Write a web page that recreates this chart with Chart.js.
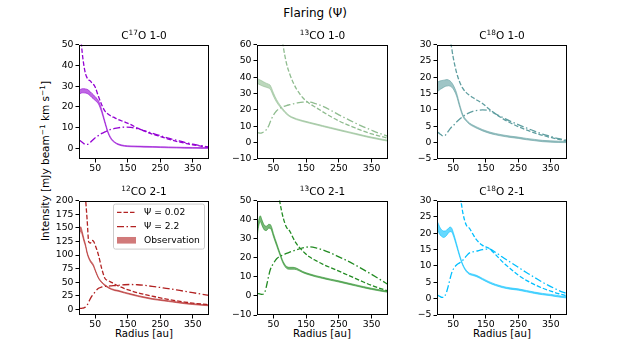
<!DOCTYPE html>
<html>
<head>
<meta charset="utf-8">
<script src="https://cdn.jsdelivr.net/npm/chart.js@4.4.1/dist/chart.umd.min.js"></script>
<style>
  body { margin: 0; background: #fff; font-family: "DejaVu Sans", sans-serif; }
  #fig { position: relative; width: 630px; height: 360px; overflow: hidden; background: #fff; }
  #fig canvas { position: absolute; }
  .txt { position: absolute; transform: translate(-50%, -50%); white-space: nowrap; color: #000; line-height: 1; }
  .txt sup { font-size: 70%; vertical-align: 0.45em; line-height: 0; }
  .sub { font-size: 10.5px; }
  .lab { font-size: 10.2px; }
</style>
</head>
<body>
<div id="fig">
  <div class="txt" style="left:315px;top:13px;font-size:12px">Flaring (Ψ)</div>
  <div class="txt lab" style="left:45px;top:161px;font-size:10.5px;transform:translate(-50%,-50%) rotate(-90deg)">Intensity [mJy beam<sup>−1</sup> km s<sup>−1</sup>]</div>
  <div class="txt lab" style="left:144px;top:334px">Radius [au]</div>
  <div class="txt lab" style="left:322px;top:334px">Radius [au]</div>
  <div class="txt lab" style="left:502px;top:334px">Radius [au]</div>
</div>
<script>
// radius grid (au) shared by all profiles
const radius = [0, 5, 10, 15, 20, 25, 30, 35, 40, 45, 50, 60, 70, 80, 90, 100, 110, 120, 140, 160, 180, 200, 225, 250, 275, 300, 325, 350, 375, 400];
const xTicks = [50, 150, 250, 350];

// C17O 1-0
const c17o10Low  = [70, 55, 46, 40, 36, 34, 33, 32.5, 31.5, 30.8, 29.5, 25, 21, 18, 16.5, 15.5, 14.8, 14, 12.8, 11.5, 9.8, 8.5, 7, 5.8, 4.6, 3.5, 2.6, 1.8, 1.2, 0.6];
const c17o10High = [4.2, 3.6, 3, 2.4, 2, 2, 2.3, 3, 3.8, 4.5, 5.2, 6.3, 7.3, 8, 8.8, 9.3, 9.7, 10, 10.3, 10.2, 9.5, 8.6, 7.4, 6.2, 5, 4, 3, 2.1, 1.4, 0.8];
const c17o10Obs  = [27, 27.5, 27.8, 27.8, 27.7, 27.5, 27, 26.3, 25.5, 24.8, 24, 22.2, 18, 12.5, 7.5, 4.5, 3, 2.1, 1.3, 1.1, 1, 0.9, 0.8, 0.7, 0.6, 0.5, 0.4, 0.35, 0.3, 0.3];
const c17o10Err  = [1, 1, 1, 1, 1, 1, 1, 1, 1, 1, 0.9, 0.8, 0.7, 0.5, 0.4, 0.3, 0.2, 0.2, 0.2, 0.2, 0.2, 0.2, 0.2, 0.2, 0.2, 0.2, 0.2, 0.2, 0.2, 0.2];

// 13CO 1-0
const co13_10Low  = [200, 190, 180, 170, 160, 150, 142, 134, 126, 118, 110, 90, 73, 59, 48.5, 42, 37, 33, 27.5, 24, 21.5, 19, 16, 13.3, 11, 9, 7, 5.3, 4, 2.7];
const co13_10High = [6.3, 6, 5.8, 6, 6.5, 7.2, 8.3, 10, 12.5, 14.8, 16.8, 19.5, 21, 22, 22.7, 23.2, 23.7, 24.2, 24.8, 24.8, 23.8, 22.3, 19.8, 17, 14.5, 12, 9.7, 7.6, 5.6, 3.9];
const co13_10Obs  = [37.8, 37.3, 36.8, 36.3, 35.8, 35.4, 35, 34.6, 34, 32, 29.5, 25.5, 22.5, 20, 17.8, 16.2, 15.2, 14.4, 13.2, 12.2, 11.2, 10.2, 9, 7.8, 6.6, 5.4, 4.2, 3.1, 2.1, 1.2];
const co13_10Err  = [1.5, 1.5, 1.5, 1.5, 1.4, 1.3, 1.2, 1.2, 1.2, 1.1, 1, 0.8, 0.6, 0.5, 0.4, 0.3, 0.3, 0.3, 0.3, 0.3, 0.3, 0.3, 0.3, 0.3, 0.3, 0.3, 0.3, 0.3, 0.3, 0.3];

// C18O 1-0
const c18o10Low  = [80, 72, 65, 58, 52, 46, 41, 36, 32, 29, 26, 21.5, 18.5, 16.5, 15.3, 14.5, 13.8, 13.2, 12, 10.3, 8.8, 7.5, 6.1, 4.9, 3.9, 3, 2.2, 1.6, 1, 0.5];
const c18o10High = [3.3, 3, 2.6, 2.2, 2, 2.2, 2.8, 3.5, 4.2, 4.8, 5.2, 6.3, 7.2, 8, 8.7, 9.2, 9.6, 9.8, 10, 9.8, 8.8, 7.8, 6.6, 5.5, 4.5, 3.5, 2.6, 1.9, 1.2, 0.7];
const c18o10Obs  = [17, 17.3, 17.6, 17.8, 18, 18.2, 18.3, 18.3, 18.1, 17.7, 17, 14.8, 11.2, 8.2, 6.8, 5.8, 5.2, 4.7, 3.8, 3.1, 2.6, 2.2, 1.8, 1.5, 1.1, 0.8, 0.5, 0.35, 0.25, 0.2];
const c18o10Err  = [1.5, 1.4, 1.3, 1.2, 1.1, 1, 1, 0.9, 0.8, 0.7, 0.6, 0.5, 0.4, 0.3, 0.2, 0.2, 0.2, 0.2, 0.2, 0.2, 0.2, 0.2, 0.2, 0.2, 0.2, 0.2, 0.2, 0.2, 0.2, 0.2];

// 12CO 2-1
const co12_21Low  = [400, 340, 290, 245, 205, 165, 124, 122, 127, 125, 118, 100, 75, 57, 53, 50, 46.5, 43.5, 38.5, 34.5, 31, 28, 24.5, 21.5, 18.5, 16, 13.8, 11.8, 10.2, 9];
const co12_21High = [2, 2, 2.5, 3, 4.5, 8, 14, 20, 25, 29, 33, 39, 41.5, 42.5, 43, 43.5, 44, 44.5, 45.5, 46, 45.5, 44.5, 42.5, 40.5, 38.5, 36, 33.5, 31, 28.5, 26];
const co12_21Obs  = [138, 148, 140, 128, 118, 104, 95, 89, 85, 80, 72, 58, 50, 44.5, 40.5, 37.5, 35.5, 34.5, 31, 28, 25, 22.5, 19.5, 17.5, 15.5, 13.5, 11.5, 10, 8.7, 7.7];
const co12_21Err  = [4, 4, 3, 2.5, 2, 1.5, 1.5, 1.5, 1.5, 1.5, 1.2, 1, 1, 1, 0.8, 0.8, 0.8, 0.8, 0.8, 0.8, 0.8, 0.8, 0.8, 0.8, 0.8, 0.8, 0.8, 0.8, 0.8, 0.8];

// 13CO 2-1
const co13_21Low  = [200, 180, 160, 145, 130, 118, 107, 97, 88, 80, 73, 60, 49, 41, 36, 34, 30.5, 27.5, 23.5, 20.5, 18.5, 16.7, 14.8, 13, 11.1, 9.2, 7.3, 5.5, 4, 2.6];
const co13_21High = [1.5, 1.2, 1, 0.8, 1, 2.5, 6, 10, 13.5, 15.5, 17, 19.5, 20.8, 21.5, 22.3, 23, 23.6, 24.2, 25.2, 25.7, 25.2, 24.2, 22.5, 20.5, 18.5, 16.2, 13.8, 11.3, 8.7, 6];
const co13_21Obs  = [32, 38, 40.5, 38.5, 36.5, 35.5, 35.5, 36.5, 36.5, 35, 32, 27, 22, 17.5, 15, 14.5, 14.5, 14.2, 12.5, 11.3, 10.3, 9.5, 8.5, 7.6, 6.6, 5.6, 4.6, 3.7, 2.9, 2.2];
const co13_21Err  = [1.5, 1.5, 1.5, 1.4, 1.3, 1.2, 1.1, 1, 1, 0.9, 0.8, 0.7, 0.6, 0.5, 0.5, 0.5, 0.5, 0.4, 0.3, 0.3, 0.3, 0.3, 0.3, 0.3, 0.3, 0.3, 0.3, 0.3, 0.3, 0.3];

// C18O 2-1
const c18o21Low  = [90, 80, 72, 65, 58, 53, 48, 44, 40, 38, 36, 34, 32, 26, 22.5, 21.5, 19.8, 18.2, 16.3, 15.4, 13.5, 11.4, 9.2, 7.2, 5.6, 4.3, 3.2, 2.3, 1.5, 0.9];
const c18o21High = [1.2, 0.9, 0.6, 0.4, 0.4, 1, 2.2, 4, 6, 7.8, 9, 10.3, 11, 11.8, 13, 14, 14.3, 14.5, 15, 15.2, 14.2, 12.8, 11.2, 9.6, 8, 6.5, 5, 3.7, 2.5, 1.5];
const c18o21Obs  = [22.5, 21.5, 20.5, 20, 19.7, 19.8, 20.2, 20.8, 21.2, 21, 19.8, 16.5, 13, 10.2, 8.5, 7.6, 7.3, 7, 6, 5, 4.2, 3.6, 3.1, 2.8, 2.3, 1.8, 1.4, 1.1, 0.7, 0.4];
const c18o21Err  = [1.3, 1.2, 1.1, 1, 1, 0.9, 0.8, 0.7, 0.7, 0.6, 0.5, 0.4, 0.3, 0.2, 0.2, 0.2, 0.2, 0.2, 0.2, 0.2, 0.2, 0.2, 0.2, 0.2, 0.2, 0.2, 0.2, 0.2, 0.2, 0.2];

const panels = [
  { title: 'C<sup>17</sup>O 1-0', color: '#9400d3', low: c17o10Low, high: c17o10High, obs: c17o10Obs, err: c17o10Err,
    yMin: -5, yMax: 50, yTicks: [0, 10, 20, 30, 40, 50], box: [79, 43, 209, 159] },
  { title: '<sup>13</sup>CO 1-0', color: '#8fbc8f', low: co13_10Low, high: co13_10High, obs: co13_10Obs, err: co13_10Err,
    yMin: -10, yMax: 60, yTicks: [-10, 0, 10, 20, 30, 40, 50, 60], box: [257, 43, 388, 159] },
  { title: 'C<sup>18</sup>O 1-0', color: '#5f9ea0', low: c18o10Low, high: c18o10High, obs: c18o10Obs, err: c18o10Err,
    yMin: -5, yMax: 30, yTicks: [-5, 0, 5, 10, 15, 20, 25, 30], box: [437, 43, 567, 159] },
  { title: '<sup>12</sup>CO 2-1', color: '#b22222', low: co12_21Low, high: co12_21High, obs: co12_21Obs, err: co12_21Err,
    yMin: -10, yMax: 200, yTicks: [0, 25, 50, 75, 100, 125, 150, 175, 200], box: [79, 199, 209, 315], legend: true },
  { title: '<sup>13</sup>CO 2-1', color: '#228b22', low: co13_21Low, high: co13_21High, obs: co13_21Obs, err: co13_21Err,
    yMin: -10, yMax: 50, yTicks: [-10, 0, 10, 20, 30, 40, 50], box: [257, 199, 388, 315] },
  { title: 'C<sup>18</sup>O 2-1', color: '#00bfff', low: c18o21Low, high: c18o21High, obs: c18o21Obs, err: c18o21Err,
    yMin: -5, yMax: 30, yTicks: [-5, 0, 5, 10, 15, 20, 25, 30], box: [437, 199, 567, 315] }
];

const FONT = 'DejaVu Sans';
const DASH = [4.5, 2];
const DASHDOT = [7, 2.5, 1.5, 2.5];

function rgba(hex, a) {
  const n = parseInt(hex.slice(1), 16);
  return `rgba(${(n >> 16) & 255},${(n >> 8) & 255},${n & 255},${a})`;
}

function pts(ys) {
  return radius.map((x, i) => ({ x: x, y: ys[i] }));
}

// black box around the axes, like matplotlib spines
const frame = {
  id: 'frame',
  afterDraw(chart) {
    const a = chart.chartArea, ctx = chart.ctx;
    ctx.save();
    ctx.strokeStyle = '#000';
    ctx.lineWidth = 1;
    ctx.strokeRect(Math.round(a.left) + 0.5, Math.round(a.top) + 0.5,
      Math.round(a.right - a.left) - 1, Math.round(a.bottom - a.top) - 1);
    ctx.restore();
  }
};

// legend box inside the 12CO panel
const legendBox = {
  id: 'legendBox',
  afterDatasetsDraw(chart) {
    const a = chart.chartArea, ctx = chart.ctx;
    const ds = chart.data.datasets;
    const x0 = a.left + 34, y0 = a.top + 3, w = 91, h = 45;
    ctx.save();
    ctx.fillStyle = 'rgba(255,255,255,0.8)';
    ctx.strokeStyle = '#cccccc';
    ctx.lineWidth = 1;
    ctx.beginPath();
    ctx.roundRect(x0 + 0.5, y0 + 0.5, w, h, 2);
    ctx.fill();
    ctx.stroke();
    const rows = [
      { ds: ds[2], y: 8.7 },
      { ds: ds[3], y: 23 },
      { ds: ds[1], y: 36.7, patch: true }
    ];
    ctx.font = `9.2px "${FONT}"`;
    ctx.textBaseline = 'middle';
    rows.forEach(r => {
      const yy = y0 + r.y;
      if (r.patch) {
        ctx.fillStyle = r.ds.backgroundColor;
        ctx.fillRect(x0 + 4, yy - 3.3, 19, 6.6);
      } else {
        ctx.strokeStyle = r.ds.borderColor;
        ctx.lineWidth = r.ds.borderWidth;
        ctx.setLineDash(r.ds.borderDash);
        ctx.beginPath();
        ctx.moveTo(x0 + 4, yy);
        ctx.lineTo(x0 + 23, yy);
        ctx.stroke();
        ctx.setLineDash([]);
      }
      ctx.fillStyle = '#000';
      ctx.fillText(r.ds.label, x0 + 31, yy);
    });
    ctx.restore();
  }
};

const fig = document.getElementById('fig');

function makePanel(p) {
  const [L, T, R, B] = p.box;
  const padL = 40, padT = 6, padR = 6, padB = 22;

  const cv = document.createElement('canvas');
  cv.width = R - L + padL + padR;
  cv.height = B - T + padT + padB;
  cv.style.left = (L - padL) + 'px';
  cv.style.top = (T - padT) + 'px';
  fig.appendChild(cv);

  const title = document.createElement('div');
  title.className = 'txt sub';
  title.style.left = ((L + R) / 2) + 'px';
  title.style.top = (T - 8) + 'px';
  title.innerHTML = p.title;
  fig.appendChild(title);

  const upper = p.obs.map((v, i) => v + p.err[i]);
  const lower = p.obs.map((v, i) => v - p.err[i]);
  const tickStyle = { color: '#000', font: { family: FONT, size: 9.3 }, autoSkip: false };

  new Chart(cv, {
    type: 'line',
    data: {
      datasets: [
        { label: 'upper', data: pts(upper), borderColor: rgba(p.color, 0.65), borderWidth: 0.9, fill: false },
        { label: 'Observation', data: pts(lower), borderColor: rgba(p.color, 0.65), borderWidth: 0.9,
          fill: '-1', backgroundColor: rgba(p.color, 0.6) },
        { label: 'Ψ = 0.02', data: pts(p.low), borderColor: p.color, borderWidth: 1.3, borderDash: DASH, fill: false },
        { label: 'Ψ = 2.2', data: pts(p.high), borderColor: p.color, borderWidth: 1.3, borderDash: DASHDOT, fill: false }
      ]
    },
    options: {
      responsive: false,
      animation: false,
      layout: { padding: { left: 0, top: padT, right: padR, bottom: 0 } },
      elements: { point: { radius: 0 }, line: { cubicInterpolationMode: 'monotone' } },
      plugins: { legend: { display: false }, tooltip: { enabled: false } },
      scales: {
        x: {
          type: 'linear', min: 0, max: 400,
          afterBuildTicks: ax => { ax.ticks = xTicks.map(v => ({ value: v })); },
          afterFit: ax => { ax.height = padB; },
          grid: { drawOnChartArea: false, tickLength: 3.5, tickColor: '#000' },
          border: { display: false },
          ticks: Object.assign({ padding: 1, maxRotation: 0 }, tickStyle)
        },
        y: {
          min: p.yMin, max: p.yMax,
          afterBuildTicks: ax => { ax.ticks = p.yTicks.map(v => ({ value: v })); },
          afterFit: ax => { ax.width = padL; },
          grid: { drawOnChartArea: false, tickLength: 3.5, tickColor: '#000' },
          border: { display: false },
          ticks: Object.assign({ padding: 2, callback: v => String(v).replace('-', '\u2212') }, tickStyle)
        }
      }
    },
    plugins: p.legend ? [frame, legendBox] : [frame]
  });
}

panels.forEach(makePanel);
</script>
</body>
</html>
